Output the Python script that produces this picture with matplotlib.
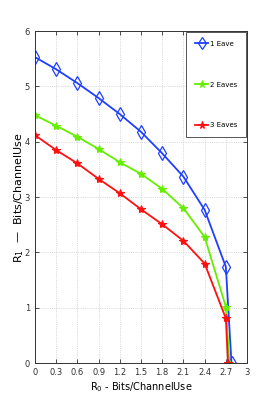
import numpy as np
import matplotlib
matplotlib.use('Agg')
import matplotlib.pyplot as plt

# ── Dados ─────────────────────────────────────────────────────────────────────
r0_grid = [0, 0.3, 0.6, 0.9, 1.2, 1.5, 1.8, 2.1, 2.4, 2.7]

r0_1eave = r0_grid + [2.78]
r1_1eave = [5.53, 5.31, 5.06, 4.79, 4.50, 4.18, 3.79, 3.37, 2.77, 1.74, 0.0]

r0_2eaves = r0_grid + [2.75]
r1_2eaves = [4.48, 4.29, 4.09, 3.87, 3.63, 3.42, 3.15, 2.80, 2.28, 1.02, 0.0]

r0_3eaves = r0_grid + [2.73]
r1_3eaves = [4.12, 3.85, 3.61, 3.33, 3.07, 2.78, 2.51, 2.21, 1.80, 0.81, 0.0]

xticks = [0, 0.3, 0.6, 0.9, 1.2, 1.5, 1.8, 2.1, 2.4, 2.7, 3]
xtick_labels = ['0', '0.3', '0.6', '0.9', '1.2', '1.5', '1.8', '2.1', '2.4', '2.7', '3']
yticks = [0, 1, 2, 3, 4, 5, 6]

# ── Figura ────────────────────────────────────────────────────────────────────
fig = plt.figure(figsize=(2.73, 4.09), dpi=100)
ax = fig.add_axes([0.128, 0.112, 0.777, 0.812])

ax.plot(r0_1eave, r1_1eave, color='#1f3fff', lw=1.3, marker='d', ms=7,
        mfc='none', mew=0.9, label='1 Eave')
ax.plot(r0_2eaves, r1_2eaves, color='#66ee00', lw=1.3, marker='*', ms=6,
        mew=0.8, label='2 Eaves')
ax.plot(r0_3eaves, r1_3eaves, color='#ff1010', lw=1.3, marker='*', ms=6,
        mew=0.8, label='3 Eaves')

ax.set_xlim(0, 3)
ax.set_ylim(0, 6)
ax.set_xticks(xticks)
ax.set_xticklabels(xtick_labels)
ax.set_yticks(yticks)
ax.tick_params(direction='in', labelsize=6, length=3, top=True, right=True,
               width=0.6, colors='#333333')
ax.grid(True, ls=':', lw=0.5, color='#bbbbbb')
for s in ax.spines.values():
    s.set_linewidth(0.7)
    s.set_color('#333333')

ax.set_xlabel('R$_0$ - Bits/ChannelUse', fontsize=7, labelpad=2)
ax.set_ylabel('R$_1$  —  Bits/ChannelUse', fontsize=8)
ax.yaxis.set_label_coords(-0.042, 0.5)

leg = ax.legend(loc='upper right', fontsize=5, labelspacing=5.0,
                handlelength=1.8, handletextpad=0.3, borderpad=1.3,
                fancybox=False, framealpha=1, borderaxespad=0.1,
                markerscale=0.9)
leg.get_frame().set_edgecolor('#555555')
leg.get_frame().set_linewidth(0.7)

plt.savefig('out.png', dpi=100)
